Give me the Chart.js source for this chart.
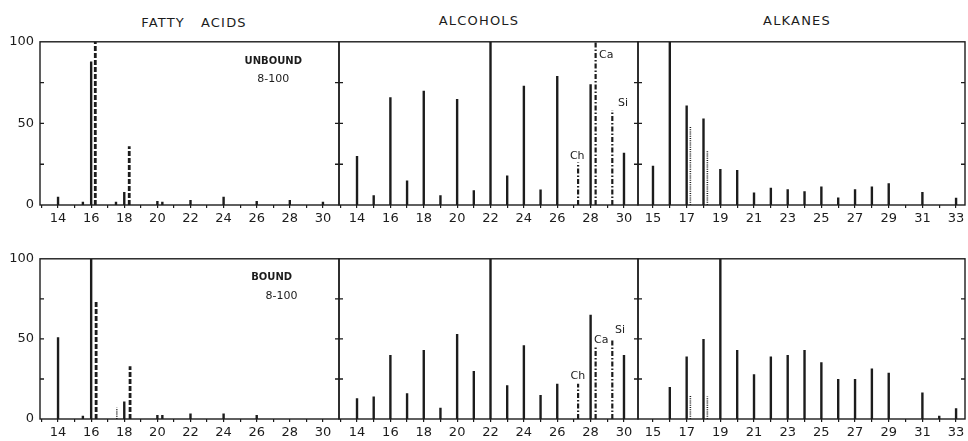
<!DOCTYPE html>
<html>
<head>
<meta charset="utf-8">
<script src="https://cdn.jsdelivr.net/npm/chart.js@4.4.1/dist/chart.umd.min.js"></script>
<style>
  body { margin: 0; background: #fff; width: 968px; height: 441px; position: relative; overflow: hidden;
         font-family: "DejaVu Sans", sans-serif; color: #1c1c1c; }
  canvas { position: absolute; }
  .title { position: absolute; font-size: 13px; line-height: 14px; letter-spacing: 1.2px; white-space: pre;
           transform: translateX(-50%); }
</style>
</head>
<body>
<div class="title" style="left:194px;top:16px">FATTY   ACIDS</div>
<div class="title" style="left:479px;top:14px">ALCOHOLS</div>
<div class="title" style="left:797px;top:14px">ALKANES</div>
<script>
// tick labels
const fattyTicks = [14, 16, 18, 20, 22, 24, 26, 28, 30];
const alcoholTicks = [14, 16, 18, 20, 22, 24, 26, 28, 30];
const alkaneTicks = [15, 17, 19, 21, 23, 25, 27, 29, 31, 33];
const yLabels = [0, 50, 100];

// fatty acids (carbon number, % of largest peak)
const faUnboundC = [14, 15.5, 16, 17.5, 18, 20, 20.3, 22, 24, 26, 28, 30];
const faUnboundV = [5, 2, 88, 2, 8, 2.5, 2, 3, 5, 2.5, 3, 2];
const faUnboundUnsatC = [16.25, 18.3];
const faUnboundUnsatV = [100, 36];
const faBoundC = [14, 15.5, 16, 18, 20, 20.3, 22, 24, 26];
const faBoundV = [51, 2, 100, 11, 2.5, 2.5, 3.5, 3.5, 2.5];
const faBoundUnsatC = [16.3, 18.35];
const faBoundUnsatV = [74, 33];
const faBoundMinorC = [17.55];
const faBoundMinorV = [7];

// alcohols
const alcC = [14, 15, 16, 17, 18, 19, 20, 21, 22, 23, 24, 25, 26, 28, 30];
const alcUnboundV = [30, 6, 66, 15, 70, 6, 65, 9, 100, 18, 73, 9.5, 79, 74, 32];
const alcBoundV = [13, 14, 40, 16, 43, 7, 53, 30, 100, 21, 46, 15, 22, 65, 40];
const sterolC = [27.25, 28.3, 29.3];          // Ch, Ca, Si
const sterolUnboundV = [26, 100, 58];
const sterolBoundV = [22, 45, 49];

// alkanes
const alkC = [15, 16, 17, 18, 19, 20, 21, 22, 23, 24, 25, 26, 27, 28, 29, 30, 31, 32, 33];
const alkUnboundV = [24, 100, 61, 53, 22, 21.5, 7.6, 10.6, 9.6, 8.4, 11.4, 4.6, 9.6, 11.4, 13.3, 0, 8, 0, 4.4];
const alkBoundV = [0, 20, 39, 50, 100, 43, 28, 39, 40, 43, 35.5, 25, 25, 31.6, 28.8, 0, 16.6, 2, 6.7];
const branchedC = [17.22, 18.23];
const branchedUnboundV = [48, 33];
const branchedBoundV = [15, 14];

const ink = '#1c1c1c';
const styles = {
  solid:   { borderWidth: 2.4, borderDash: [] },
  dashed:  { borderWidth: 2.8, borderDash: [5, 2] },
  dashdot: { borderWidth: 2.2, borderDash: [5, 2, 1.5, 2] },
  dotted:  { borderWidth: 1.6, borderDash: [1, 1.2] }
};

function sticks(cs, vs) {
  const pts = [];
  cs.forEach((c, i) => { pts.push({ x: c, y: 0 }, { x: c, y: vs[i] }, { x: c, y: null }); });
  return pts;
}

function series(cs, vs, style) {
  return Object.assign({
    data: sticks(cs, vs),
    borderColor: ink,
    borderCapStyle: 'butt',
    pointRadius: 0,
    spanGaps: false,
    tension: 0
  }, styles[style]);
}

// frame, edge crosses and in-panel notes
const frame = {
  id: 'frame',
  afterDatasetsDraw(chart, args, opts) {
    const { ctx, chartArea: a, scales: { x, y } } = chart;
    ctx.save();
    ctx.strokeStyle = ink;
    ctx.lineWidth = 1.4;
    ctx.strokeRect(a.left, a.top, a.right - a.left, a.bottom - a.top);
    [25, 50, 75].forEach(v => {
      const py = y.getPixelForValue(v);
      ctx.beginPath();
      ctx.moveTo(a.left, py); ctx.lineTo(a.left + 4, py);
      ctx.moveTo(a.right, py); ctx.lineTo(a.right - 4, py);
      ctx.stroke();
    });
    ctx.fillStyle = ink;
    ctx.textBaseline = 'middle';
    (opts.notes || []).forEach(n => {
      ctx.font = n.font || '11px "DejaVu Sans"';
      ctx.textAlign = n.align || 'left';
      ctx.fillText(n.text, x.getPixelForValue(n.x), y.getPixelForValue(n.y));
    });
    ctx.restore();
  }
};

function panel(rect, xMin, xMax, labels, showY, datasets, notes) {
  const padL = 42, padT = 8, padR = 14, padB = 26;
  const w = rect[2] - rect[0], h = rect[3] - rect[1];
  const cv = document.createElement('canvas');
  cv.width = w + padL + padR;
  cv.height = h + padT + padB;
  cv.style.left = (rect[0] - padL) + 'px';
  cv.style.top = (rect[1] - padT) + 'px';
  document.body.appendChild(cv);
  const ints = [];
  for (let c = Math.ceil(xMin); c <= Math.floor(xMax); c++) ints.push(c);
  new Chart(cv.getContext('2d'), {
    type: 'line',
    data: { datasets: datasets },
    options: {
      responsive: false,
      animation: false,
      events: [],
      layout: { padding: { top: padT, right: padR, left: 0, bottom: 0 } },
      plugins: { legend: { display: false }, tooltip: { enabled: false }, frame: { notes: notes } },
      scales: {
        x: {
          type: 'linear', min: xMin, max: xMax,
          afterBuildTicks: ax => { ax.ticks = ints.map(v => ({ value: v })); },
          afterFit: ax => { ax.height = padB; },
          grid: { display: true, drawOnChartArea: false, drawTicks: true, tickLength: 3, color: ink, lineWidth: 1.2 },
          border: { display: false },
          ticks: {
            autoSkip: false, maxRotation: 0, padding: 3, color: ink,
            font: { family: 'DejaVu Sans', size: 13 },
            callback: v => labels.includes(v) ? String(v) : ''
          }
        },
        y: {
          type: 'linear', min: 0, max: 100,
          afterBuildTicks: ax => { ax.ticks = [0, 25, 50, 75, 100].map(v => ({ value: v })); },
          afterFit: ax => { ax.width = padL; },
          grid: { display: false, drawTicks: false },
          border: { display: false },
          ticks: {
            padding: 6, color: ink,
            font: { family: 'DejaVu Sans', size: 13 },
            callback: v => (showY && yLabels.includes(v)) ? String(v) : ''
          }
        }
      }
    },
    plugins: [frame]
  });
}

const top0 = 36, top1 = 205, bot0 = 253, bot1 = 419;

// unbound row
panel([40, top0, 339, top1], 12.91, 30.97, fattyTicks, true, [
  series(faUnboundC, faUnboundV, 'solid'),
  series(faUnboundUnsatC, faUnboundUnsatV, 'dashed')
], [
  { text: 'UNBOUND', x: 27, y: 88, align: 'center', font: 'bold 10px "DejaVu Sans"' },
  { text: '8-100', x: 27, y: 77, align: 'center' }
]);
panel([339, top0, 638, top1], 12.92, 30.84, alcoholTicks, false, [
  series(alcC, alcUnboundV, 'solid'),
  series(sterolC, sterolUnboundV, 'dashdot')
], [
  { text: 'Ch', x: 26.76, y: 30 },
  { text: 'Ca', x: 28.5, y: 92 },
  { text: 'Si', x: 29.64, y: 62.5 }
]);
panel([638, top0, 965, top1], 14.11, 33.53, alkaneTicks, false, [
  series(alkC, alkUnboundV, 'solid'),
  series(branchedC, branchedUnboundV, 'dotted')
], []);

// bound row
panel([40, bot0, 339, bot1], 12.91, 30.97, fattyTicks, true, [
  series(faBoundC, faBoundV, 'solid'),
  series(faBoundUnsatC, faBoundUnsatV, 'dashed'),
  series(faBoundMinorC, faBoundMinorV, 'dotted')
], [
  { text: 'BOUND', x: 26.9, y: 88.5, align: 'center', font: 'bold 10px "DejaVu Sans"' },
  { text: '8-100', x: 27.5, y: 77, align: 'center' }
]);
panel([339, bot0, 638, bot1], 12.92, 30.84, alcoholTicks, false, [
  series(alcC, alcBoundV, 'solid'),
  series(sterolC, sterolBoundV, 'dashdot')
], [
  { text: 'Ch', x: 26.8, y: 27 },
  { text: 'Ca', x: 28.2, y: 49 },
  { text: 'Si', x: 29.46, y: 55.5 }
]);
panel([638, bot0, 965, bot1], 14.11, 33.53, alkaneTicks, false, [
  series(alkC, alkBoundV, 'solid'),
  series(branchedC, branchedBoundV, 'dotted')
], []);
</script>
</body>
</html>
